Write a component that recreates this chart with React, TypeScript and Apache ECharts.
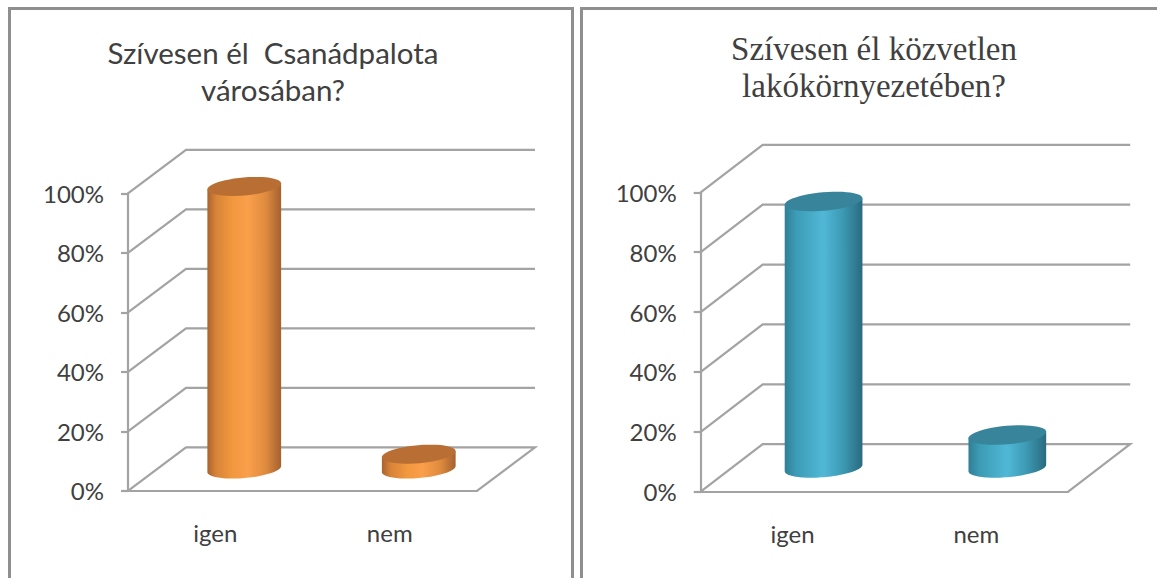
import React, { useEffect, useRef } from "react";
import * as echarts from "echarts";

const categories = ["igen", "nem"];
const leftValues = [95, 5];
const rightValues = [89, 11];
const yTicks = [0, 20, 40, 60, 80, 100];
const leftTitle = "Szívesen él  Csanádpalota\nvárosában?";
const rightTitle = "Szívesen él közvetlen\nlakókörnyezetében?";

const GRID_COLOR = "#a3a3a3";
const FRAME_COLOR = "#8f8f8f";
const TEXT_COLOR = "#404040";

const TILT = (5 * Math.PI) / 180;

function ellipsePoint(cx: number, cy: number, a: number, b: number, t: number) {
  const c = Math.cos(t);
  const s = Math.sin(t);
  return [cx + a * c * Math.cos(TILT) + b * s * Math.sin(TILT), cy - a * c * Math.sin(TILT) + b * s * Math.cos(TILT)];
}

function ellipseRange(cx: number, cy: number, a: number, b: number, from: number, to: number) {
  const pts: number[][] = [];
  const n = 48;
  for (let i = 0; i <= n; i++) pts.push(ellipsePoint(cx, cy, a, b, from + ((to - from) * i) / n));
  return pts;
}

function wallSeries(index: number, dx: number, dy: number) {
  return {
    type: "custom",
    xAxisIndex: index,
    yAxisIndex: index,
    silent: true,
    z: 1,
    encode: { x: 0, y: 1 },
    data: yTicks.map((t) => [0, t]),
    renderItem: (params: any, api: any) => {
      const cs = params.coordSys;
      const y = api.coord([0, api.value(1)])[1];
      const pts = [
        [cs.x, y],
        [cs.x + dx, y + dy],
        [cs.x + cs.width + dx, y + dy],
      ];
      if (api.value(1) === 0) pts.push([cs.x + cs.width, y]);
      return {
        type: "polyline",
        shape: { points: pts },
        style: { stroke: GRID_COLOR, lineWidth: 2.2, fill: "none" },
      };
    },
  };
}

function cylinderSeries(
  index: number,
  values: number[],
  dx: number,
  dy: number,
  a: number,
  b: number,
  top: string,
  stops: [number, string][],
) {
  return {
    type: "custom",
    xAxisIndex: index,
    yAxisIndex: index,
    silent: true,
    z: 5,
    encode: { x: 0, y: 1 },
    data: values.map((v, i) => [i, v]),
    renderItem: (_params: any, api: any) => {
      const base = api.coord([api.value(0), 0]);
      const head = api.coord([api.value(0), api.value(1)]);
      const cx = base[0] + dx / 2;
      const by = base[1] + dy / 2;
      const ty = head[1] + dy / 2;
      const tR = Math.atan2(b * Math.sin(TILT), a * Math.cos(TILT));
      const bottomArc = ellipseRange(cx, by, a, b, tR, Math.PI + tR);
      const topLeft = ellipsePoint(cx, ty, a, b, Math.PI + tR);
      const topRight = ellipsePoint(cx, ty, a, b, tR);
      return {
        type: "group",
        children: [
          {
            type: "polygon",
            shape: { points: [...bottomArc, topLeft, topRight] },
            style: {
              fill: new echarts.graphic.LinearGradient(
                0,
                0,
                1,
                0,
                stops.map(([offset, color]) => ({ offset, color })),
              ),
            },
          },
          {
            type: "polygon",
            shape: { points: ellipseRange(cx, ty, a, b, 0, Math.PI * 2) },
            style: { fill: top },
          },
        ],
      };
    },
  };
}

const orangeStops: [number, string][] = [
  [0, "#a9632f"],
  [0.12, "#d88438"],
  [0.35, "#f2983f"],
  [0.55, "#fb9f4b"],
  [0.8, "#dd8a3e"],
  [1, "#a4612f"],
];
const blueStops: [number, string][] = [
  [0, "#2f7f96"],
  [0.15, "#3d9cb6"],
  [0.5, "#50b8d6"],
  [0.75, "#3c99b3"],
  [1, "#2a6a7f"],
];

function frameLine(x1: number, y1: number, x2: number, y2: number) {
  return {
    type: "line",
    silent: true,
    shape: { x1, y1, x2, y2 },
    style: { stroke: FRAME_COLOR, lineWidth: 3 },
  };
}

export default function App() {
  const ref = useRef<HTMLDivElement>(null);
  useEffect(() => {
    const chart = echarts.init(ref.current!, null, { renderer: "svg" });
    const axisX = (gridIndex: number) => ({
      type: "category",
      gridIndex,
      data: categories,
      axisLine: { lineStyle: { color: GRID_COLOR, width: 2.2 } },
      axisTick: { show: false },
      axisLabel: { color: TEXT_COLOR, fontFamily: "Lato", fontSize: 24, margin: 30 },
    });
    const axisY = (gridIndex: number) => ({
      type: "value",
      gridIndex,
      min: 0,
      max: 100,
      interval: 20,
      splitLine: { show: false },
      axisLine: { show: true, lineStyle: { color: GRID_COLOR, width: 2.2 } },
      axisTick: { show: true, length: 7, lineStyle: { color: GRID_COLOR, width: 2.2 } },
      axisLabel: { color: TEXT_COLOR, fontFamily: "Lato", fontSize: 24, margin: 24, formatter: "{value}%" },
    });
    chart.setOption({
      animation: false,
      backgroundColor: "#ffffff",
      title: [
        {
          text: leftTitle,
          left: 268,
          top: 29,
          textAlign: "center",
          textStyle: { fontFamily: "Lato", fontSize: 29.5, fontWeight: "normal", color: TEXT_COLOR, lineHeight: 37, align: "center" },
        },
        {
          text: rightTitle,
          left: 869,
          top: 25,
          textAlign: "center",
          textStyle: { fontFamily: "Liberation Serif", fontSize: 33, fontWeight: "normal", color: TEXT_COLOR, lineHeight: 37, align: "center" },
        },
      ],
      grid: [
        { left: 128, width: 349, top: 193.3, height: 297.5 },
        { left: 700.7, width: 367.5, top: 192.3, height: 299.4 },
      ],
      xAxis: [axisX(0), axisX(1)],
      yAxis: [axisY(0), axisY(1)],
      series: [
        wallSeries(0, 58, -43.5),
        wallSeries(1, 62, -47.5),
        cylinderSeries(0, leftValues, 58, -43.5, 37, 9, "#b96f34", orangeStops),
        cylinderSeries(1, rightValues, 62, -47.5, 39, 9.2, "#37849b", blueStops),
      ],
      graphic: [
        frameLine(9.5, 8.5, 573, 8.5),
        frameLine(9.5, 7, 9.5, 578),
        frameLine(572.5, 7, 572.5, 578),
        frameLine(581.5, 7, 581.5, 578),
        frameLine(581.5, 8.5, 1157, 8.5),
      ],
    });
    return () => chart.dispose();
  }, []);
  return <div ref={ref} style={{ position: "absolute", left: 0, top: 0, width: 1157, height: 578 }} />;
}
